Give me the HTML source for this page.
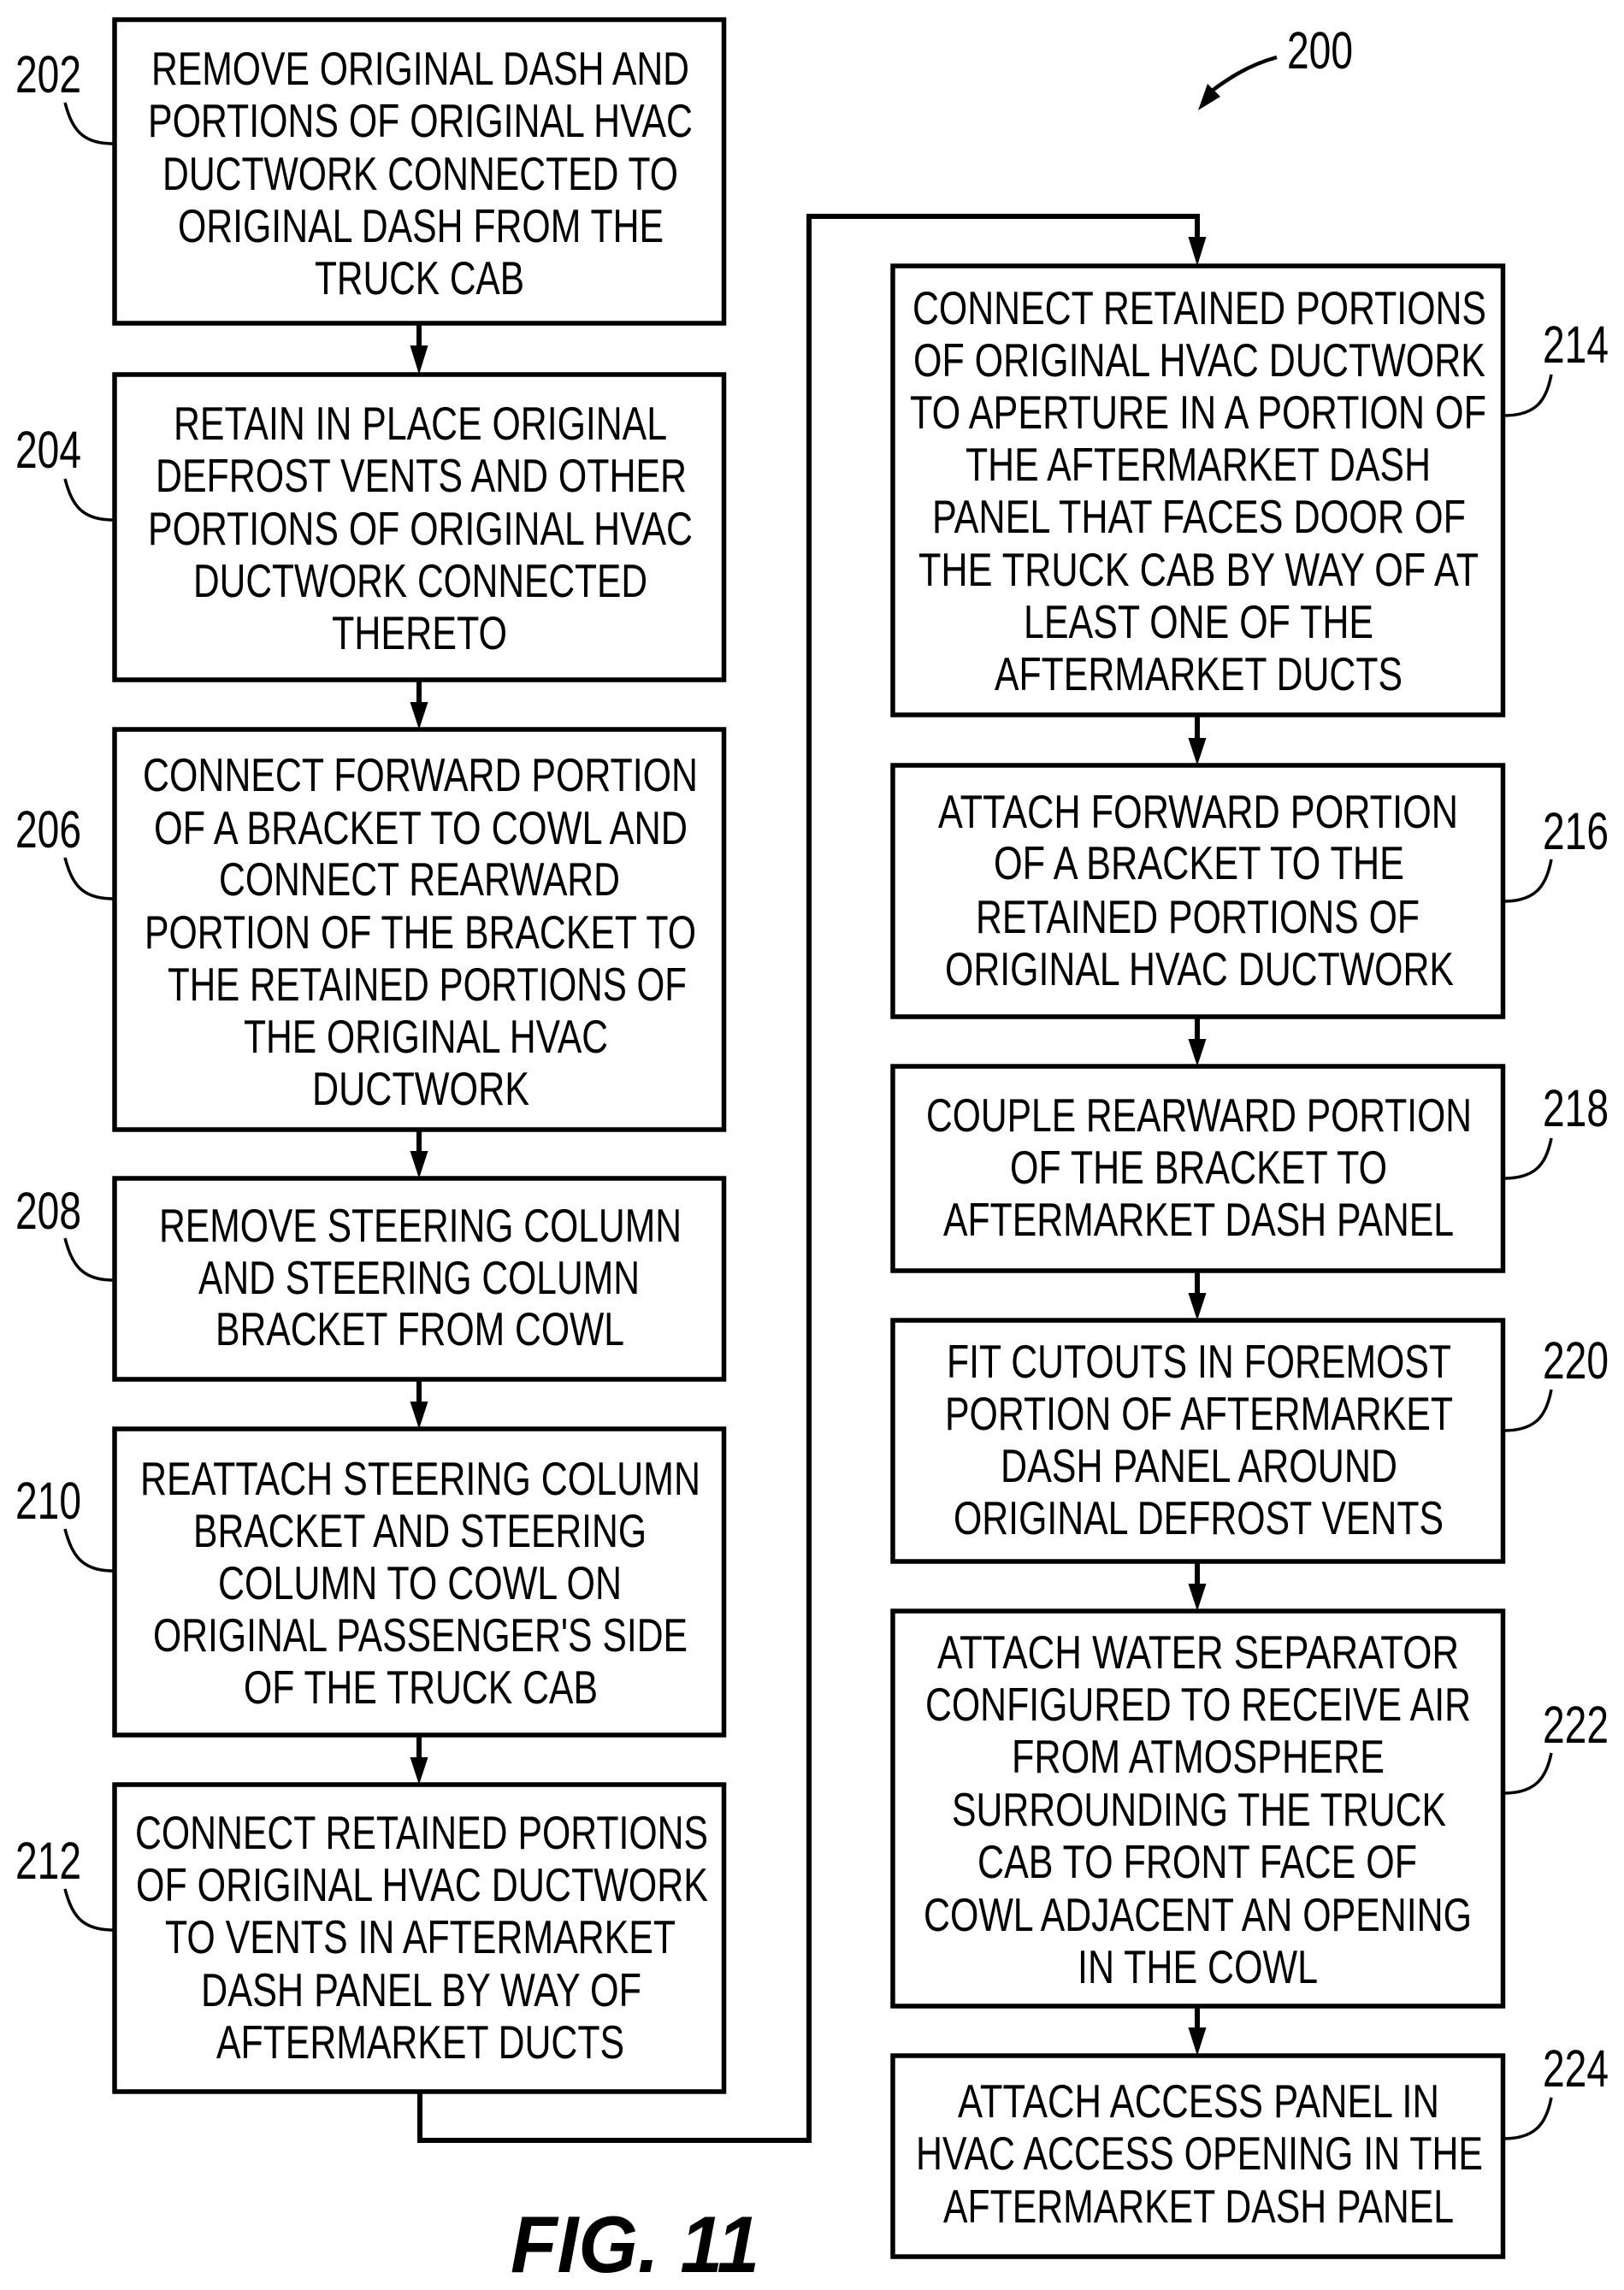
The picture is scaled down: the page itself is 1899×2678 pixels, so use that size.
<!DOCTYPE html>
<html><head><meta charset="utf-8"><style>
html,body{margin:0;padding:0;background:#fff}
svg{display:block}
text{font-family:"Liberation Sans",Arial,sans-serif;font-size:55px;fill:#000}
.n{font-size:61px}
.f{font-size:94px;font-weight:bold;font-style:italic}
rect{fill:#fff;stroke:#000;stroke-width:5.5}
.c{fill:none;stroke:#000;stroke-width:3.5}
.l{fill:none;stroke:#000;stroke-width:6}
</style></head><body>
<svg xmlns="http://www.w3.org/2000/svg" width="1899" height="2678" viewBox="0 0 1899 2678">
<rect x="0" y="0" width="1899" height="2678" style="stroke:none"/>
<!-- connectors -->
<g class="l">
<path class="l" d="M490 378V410M490 795V825M490 1321V1350M490 1613V1643M490 2029V2060"/>
<path class="l" d="M491 2446V2503H946V253H1400V285"/>
<path class="l" d="M1400 836V866M1400 1189V1219M1400 1486V1516M1400 1826V1856M1400 2346V2376"/>
</g>
<g>
<path d="M479.500 404H500.500L490 438Z"/><path d="M479.500 821H500.500L490 853Z"/><path d="M479.500 1346H500.500L490 1378Z"/><path d="M479.500 1639H500.500L490 1671Z"/><path d="M479.500 2055H500.500L490 2087Z"/>
<path d="M1389.500 277H1410.500L1400 311Z"/><path d="M1389.500 863H1410.500L1400 895Z"/><path d="M1389.500 1215H1410.500L1400 1247Z"/><path d="M1389.500 1512H1410.500L1400 1544Z"/><path d="M1389.500 1852H1410.500L1400 1884Z"/><path d="M1389.500 2371H1410.500L1400 2404Z"/>
</g>
<!-- boxes -->
<rect x="134" y="23" width="712.500" height="355"/>
<rect x="134" y="438" width="712.500" height="357"/>
<rect x="134" y="853" width="712.500" height="468"/>
<rect x="134" y="1378" width="712.500" height="235"/>
<rect x="134" y="1671" width="712.500" height="358"/>
<rect x="134" y="2087" width="712.500" height="359"/>
<rect x="1044" y="311" width="713.500" height="525"/>
<rect x="1044" y="895" width="713.500" height="294"/>
<rect x="1044" y="1247" width="713.500" height="239"/>
<rect x="1044" y="1544" width="713.500" height="282"/>
<rect x="1044" y="1884" width="713.500" height="462"/>
<rect x="1044" y="2404" width="713.500" height="235"/>
<!-- leader curves -->
<path class="c" d="M76 120C84 150 95 168 132 168"/>
<path class="c" d="M76 560C84 590 95 608 132 608"/>
<path class="c" d="M76 1003C84 1033 95 1051 132 1051"/>
<path class="c" d="M76 1448C84 1478 95 1497 132 1497"/>
<path class="c" d="M76 1788C84 1818 95 1837 132 1837"/>
<path class="c" d="M76 2209C84 2239 95 2257 132 2257"/>
<path class="c" d="M1814 438C1808 470 1795 486 1758 486"/>
<path class="c" d="M1814 1005C1808 1037 1795 1054 1758 1054"/>
<path class="c" d="M1814 1331C1808 1362 1795 1378 1758 1378"/>
<path class="c" d="M1814 1625C1808 1657 1795 1673 1758 1673"/>
<path class="c" d="M1814 2050C1808 2080 1795 2097 1758 2097"/>
<path class="c" d="M1814 2453C1808 2484 1795 2501 1758 2501"/>
<path class="c" d="M1493 67C1460 76 1436 92 1416 107" style="stroke-width:4.500"/>
<path d="M1401 129L1412 98L1427 113Z"/>
<!-- reference numerals -->
<g class="n">
<text class="n" x="18" y="108" textLength="77" lengthAdjust="spacingAndGlyphs">202</text>
<text class="n" x="18" y="547" textLength="77" lengthAdjust="spacingAndGlyphs">204</text>
<text class="n" x="18" y="991" textLength="77" lengthAdjust="spacingAndGlyphs">206</text>
<text class="n" x="18" y="1437" textLength="77" lengthAdjust="spacingAndGlyphs">208</text>
<text class="n" x="18" y="1776" textLength="77" lengthAdjust="spacingAndGlyphs">210</text>
<text class="n" x="18" y="2197" textLength="77" lengthAdjust="spacingAndGlyphs">212</text>
<text class="n" x="1804" y="424" textLength="77" lengthAdjust="spacingAndGlyphs">214</text>
<text class="n" x="1804" y="993" textLength="77" lengthAdjust="spacingAndGlyphs">216</text>
<text class="n" x="1804" y="1317" textLength="77" lengthAdjust="spacingAndGlyphs">218</text>
<text class="n" x="1804" y="1612" textLength="77" lengthAdjust="spacingAndGlyphs">220</text>
<text class="n" x="1804" y="2038" textLength="77" lengthAdjust="spacingAndGlyphs">222</text>
<text class="n" x="1804" y="2440" textLength="77" lengthAdjust="spacingAndGlyphs">224</text>
<text class="n" x="1505" y="80" textLength="77" lengthAdjust="spacingAndGlyphs">200</text>
</g>
<!-- 202 -->
<text x="177" y="99" textLength="629" lengthAdjust="spacingAndGlyphs">REMOVE ORIGINAL DASH AND</text>
<text x="173" y="160" textLength="637" lengthAdjust="spacingAndGlyphs">PORTIONS OF ORIGINAL HVAC</text>
<text x="190" y="222" textLength="603" lengthAdjust="spacingAndGlyphs">DUCTWORK CONNECTED TO</text>
<text x="208" y="283" textLength="568" lengthAdjust="spacingAndGlyphs">ORIGINAL DASH FROM THE</text>
<text x="368" y="344" textLength="245" lengthAdjust="spacingAndGlyphs">TRUCK CAB</text>
<!-- 204 -->
<text x="203" y="514" textLength="577" lengthAdjust="spacingAndGlyphs">RETAIN IN PLACE ORIGINAL</text>
<text x="182" y="575" textLength="621" lengthAdjust="spacingAndGlyphs">DEFROST VENTS AND OTHER</text>
<text x="173" y="637" textLength="637" lengthAdjust="spacingAndGlyphs">PORTIONS OF ORIGINAL HVAC</text>
<text x="226" y="698" textLength="531" lengthAdjust="spacingAndGlyphs">DUCTWORK CONNECTED</text>
<text x="388" y="759" textLength="205" lengthAdjust="spacingAndGlyphs">THERETO</text>
<!-- 206 -->
<text x="167" y="925" textLength="649" lengthAdjust="spacingAndGlyphs">CONNECT FORWARD PORTION</text>
<text x="180" y="987" textLength="624" lengthAdjust="spacingAndGlyphs">OF A BRACKET TO COWL AND</text>
<text x="256" y="1047" textLength="469" lengthAdjust="spacingAndGlyphs">CONNECT REARWARD</text>
<text x="169" y="1109" textLength="645" lengthAdjust="spacingAndGlyphs">PORTION OF THE BRACKET TO</text>
<text x="196" y="1170" textLength="607" lengthAdjust="spacingAndGlyphs">THE RETAINED PORTIONS OF</text>
<text x="285" y="1231" textLength="426" lengthAdjust="spacingAndGlyphs">THE ORIGINAL HVAC</text>
<text x="365" y="1292" textLength="254" lengthAdjust="spacingAndGlyphs">DUCTWORK</text>
<!-- 208 -->
<text x="186" y="1452" textLength="611" lengthAdjust="spacingAndGlyphs">REMOVE STEERING COLUMN</text>
<text x="232" y="1513" textLength="516" lengthAdjust="spacingAndGlyphs">AND STEERING COLUMN</text>
<text x="252" y="1573" textLength="478" lengthAdjust="spacingAndGlyphs">BRACKET FROM COWL</text>
<!-- 210 -->
<text x="164" y="1748" textLength="655" lengthAdjust="spacingAndGlyphs">REATTACH STEERING COLUMN</text>
<text x="226" y="1809" textLength="530" lengthAdjust="spacingAndGlyphs">BRACKET AND STEERING</text>
<text x="255" y="1870" textLength="472" lengthAdjust="spacingAndGlyphs">COLUMN TO COWL ON</text>
<text x="179" y="1931" textLength="625" lengthAdjust="spacingAndGlyphs">ORIGINAL PASSENGER'S SIDE</text>
<text x="285" y="1992" textLength="414" lengthAdjust="spacingAndGlyphs">OF THE TRUCK CAB</text>
<!-- 212 -->
<text x="158" y="2162" textLength="670" lengthAdjust="spacingAndGlyphs">CONNECT RETAINED PORTIONS</text>
<text x="159" y="2223" textLength="669" lengthAdjust="spacingAndGlyphs">OF ORIGINAL HVAC DUCTWORK</text>
<text x="193" y="2284" textLength="597" lengthAdjust="spacingAndGlyphs">TO VENTS IN AFTERMARKET</text>
<text x="235" y="2346" textLength="515" lengthAdjust="spacingAndGlyphs">DASH PANEL BY WAY OF</text>
<text x="253" y="2407" textLength="477" lengthAdjust="spacingAndGlyphs">AFTERMARKET DUCTS</text>
<!-- 214 -->
<text x="1067" y="379" textLength="671" lengthAdjust="spacingAndGlyphs">CONNECT RETAINED PORTIONS</text>
<text x="1068" y="440" textLength="669" lengthAdjust="spacingAndGlyphs">OF ORIGINAL HVAC DUCTWORK</text>
<text x="1064" y="501" textLength="674" lengthAdjust="spacingAndGlyphs">TO APERTURE IN A PORTION OF</text>
<text x="1129" y="562" textLength="544" lengthAdjust="spacingAndGlyphs">THE AFTERMARKET DASH</text>
<text x="1090" y="623" textLength="624" lengthAdjust="spacingAndGlyphs">PANEL THAT FACES DOOR OF</text>
<text x="1074" y="685" textLength="655" lengthAdjust="spacingAndGlyphs">THE TRUCK CAB BY WAY OF AT</text>
<text x="1197" y="746" textLength="409" lengthAdjust="spacingAndGlyphs">LEAST ONE OF THE</text>
<text x="1163" y="807" textLength="477" lengthAdjust="spacingAndGlyphs">AFTERMARKET DUCTS</text>
<!-- 216 -->
<text x="1097" y="968" textLength="608" lengthAdjust="spacingAndGlyphs">ATTACH FORWARD PORTION</text>
<text x="1162" y="1028" textLength="480" lengthAdjust="spacingAndGlyphs">OF A BRACKET TO THE</text>
<text x="1141" y="1091" textLength="519" lengthAdjust="spacingAndGlyphs">RETAINED PORTIONS OF</text>
<text x="1105" y="1152" textLength="595" lengthAdjust="spacingAndGlyphs">ORIGINAL HVAC DUCTWORK</text>
<!-- 218 -->
<text x="1083" y="1323" textLength="638" lengthAdjust="spacingAndGlyphs">COUPLE REARWARD PORTION</text>
<text x="1181" y="1384" textLength="441" lengthAdjust="spacingAndGlyphs">OF THE BRACKET TO</text>
<text x="1103" y="1445" textLength="597" lengthAdjust="spacingAndGlyphs">AFTERMARKET DASH PANEL</text>
<!-- 220 -->
<text x="1107" y="1611" textLength="590" lengthAdjust="spacingAndGlyphs">FIT CUTOUTS IN FOREMOST</text>
<text x="1105" y="1672" textLength="594" lengthAdjust="spacingAndGlyphs">PORTION OF AFTERMARKET</text>
<text x="1170" y="1733" textLength="464" lengthAdjust="spacingAndGlyphs">DASH PANEL AROUND</text>
<text x="1115" y="1794" textLength="573" lengthAdjust="spacingAndGlyphs">ORIGINAL DEFROST VENTS</text>
<!-- 222 -->
<text x="1096" y="1951" textLength="610" lengthAdjust="spacingAndGlyphs">ATTACH WATER SEPARATOR</text>
<text x="1082" y="2012" textLength="638" lengthAdjust="spacingAndGlyphs">CONFIGURED TO RECEIVE AIR</text>
<text x="1183" y="2073" textLength="436" lengthAdjust="spacingAndGlyphs">FROM ATMOSPHERE</text>
<text x="1113" y="2135" textLength="578" lengthAdjust="spacingAndGlyphs">SURROUNDING THE TRUCK</text>
<text x="1143" y="2196" textLength="514" lengthAdjust="spacingAndGlyphs">CAB TO FRONT FACE OF</text>
<text x="1080" y="2258" textLength="641" lengthAdjust="spacingAndGlyphs">COWL ADJACENT AN OPENING</text>
<text x="1260" y="2319" textLength="281" lengthAdjust="spacingAndGlyphs">IN THE COWL</text>
<!-- 224 -->
<text x="1120" y="2476" textLength="563" lengthAdjust="spacingAndGlyphs">ATTACH ACCESS PANEL IN</text>
<text x="1071" y="2537" textLength="663" lengthAdjust="spacingAndGlyphs">HVAC ACCESS OPENING IN THE</text>
<text x="1103" y="2599" textLength="597" lengthAdjust="spacingAndGlyphs">AFTERMARKET DASH PANEL</text>
<!-- figure label -->
<text class="f" x="597" y="2657" textLength="291" lengthAdjust="spacingAndGlyphs">FIG. 11</text>
</svg>
</body></html>
